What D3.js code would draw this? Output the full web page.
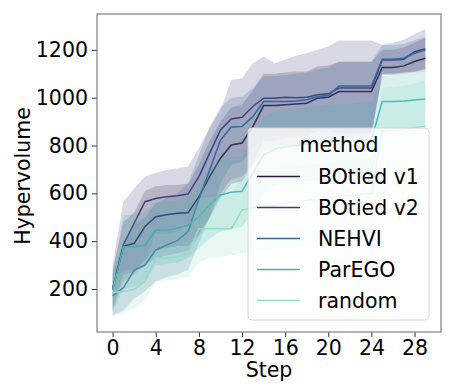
<!DOCTYPE html>
<html>
<head>
<meta charset="utf-8">
<script src="https://cdn.jsdelivr.net/npm/d3@7"></script>
<style>
  body { margin: 0; background: #fff; }
  text { font-family: "DejaVu Sans", sans-serif; fill: #000; }
</style>
</head>
<body>
<div id="hv_chart"></div>
<script>
// steps and tick labels
var steps = d3.range(0, 30);
var xTicks = [0, 4, 8, 12, 16, 20, 24, 28];
var yTicks = [200, 400, 600, 800, 1000, 1200];

var methods = ['BOtied v1', 'BOtied v2', 'NEHVI', 'ParEGO', 'random'];
var colors = ['#2e1e3c', '#413d7b', '#37659e', '#3fb3b1', '#93dcc2'];

// mean hypervolume per step
var v1Mean = [200,378,391,461,502,510,517,519,586,670,747,802,810,879,967,967,970,974,977,998,1002,1026,1026,1026,1026,1126,1126,1133,1151,1165];
var v2Mean = [200,385,475,565,578,586,590,597,670,768,865,911,918,963,998,998,1002,1000,1002,1012,1016,1040,1040,1040,1040,1158,1158,1161,1192,1205];
var nehviMean = [171,205,279,300,363,384,402,440,575,698,823,877,879,921,984,984,984,986,991,1005,1009,1049,1049,1049,1049,1161,1161,1165,1186,1200];
var paregoMean = [196,377,377,384,447,447,454,468,502,551,593,605,609,684,760,785,795,800,805,810,815,818,820,822,825,984,984,986,990,994];
var randomMean = [185,189,199,231,330,330,335,350,452,452,452,452,531,540,545,550,560,565,570,575,580,590,590,595,600,860,865,868,875,880];

// confidence band, upper
var v1Hi = [280,480,520,610,630,635,635,640,720,820,900,960,970,1030,1100,1100,1105,1110,1110,1130,1135,1150,1150,1150,1150,1200,1200,1210,1230,1250];
var v2Hi = [300,565,620,670,685,698,705,712,790,872,950,1074,1081,1144,1172,1144,1160,1175,1186,1200,1215,1239,1239,1239,1239,1221,1230,1242,1265,1287];
var nehviHi = [260,400,470,500,560,580,600,640,760,880,960,1000,1005,1040,1090,1090,1095,1100,1105,1120,1125,1150,1150,1150,1150,1220,1220,1225,1240,1255];
var paregoHi = [260,510,510,520,560,565,570,585,640,700,740,750,755,840,920,940,950,955,960,965,970,975,975,980,985,1090,1095,1100,1105,1110];
var randomHi = [260,270,285,320,430,430,440,460,580,585,590,590,680,690,700,705,710,715,720,725,730,740,740,745,750,1040,1045,1050,1060,1070];

// confidence band, lower
var v1Lo = [120,260,270,320,360,370,380,380,430,500,580,640,650,720,820,820,830,835,840,860,865,850,850,850,850,1095,1095,1100,1105,1110];
var v2Lo = [110,230,260,300,330,340,350,360,420,500,600,660,670,720,780,780,790,795,800,810,815,830,830,830,830,1100,1100,1105,1110,1120];
var nehviLo = [90,110,160,190,230,250,260,280,390,500,640,720,730,790,840,840,845,850,850,860,860,850,850,850,850,1100,1100,1105,1110,1120];
var paregoLo = [100,200,210,230,300,305,310,330,370,410,440,450,460,520,600,630,640,645,650,655,660,665,670,670,675,860,860,865,870,880];
var randomLo = [84,98,120,154,231,235,240,251,309,330,335,340,350,356,360,365,370,375,380,385,390,395,395,400,405,650,655,660,665,670];

var means = [v1Mean, v2Mean, nehviMean, paregoMean, randomMean];
var his = [v1Hi, v2Hi, nehviHi, paregoHi, randomHi];
var los = [v1Lo, v2Lo, nehviLo, paregoLo, randomLo];

var fontSize = "20.5px";

// set the dimensions and margins of the graph
var margin = {top: 14, right: 14, bottom: 55, left: 97},
  width = 455 - margin.left - margin.right,
  height = 387 - margin.top - margin.bottom;

var svg = d3.select("#hv_chart")
.append("svg")
  .attr("width", 455)
  .attr("height", 387)
.append("g")
  .attr("transform", "translate(" + margin.left + "," + margin.top + ")");

var x = d3.scaleLinear()
  .domain([-1.45, 30.45])
  .range([0, width]);

var y = d3.scaleLinear()
  .domain([20, 1350])
  .range([height, 0]);

// bands
var area = d3.area()
  .x(function(d) { return x(d.s); })
  .y0(function(d) { return y(d.lo); })
  .y1(function(d) { return y(d.hi); });

var line = d3.line()
  .x(function(d) { return x(d.s); })
  .y(function(d) { return y(d.m); });

methods.forEach(function(name, i) {
  var rows = steps.map(function(s) {
    return {s: s, m: means[i][s], lo: los[i][s], hi: his[i][s]};
  });
  svg.append("path")
    .datum(rows)
    .attr("d", area)
    .style("fill", colors[i])
    .style("fill-opacity", 0.2);
  svg.append("path")
    .datum(rows)
    .attr("d", line)
    .style("fill", "none")
    .style("stroke", colors[i])
    .style("stroke-width", 1.5);
});

// axes
var xAxis = svg.append("g")
  .attr("transform", "translate(0," + height + ")")
  .call(d3.axisBottom(x).tickValues(xTicks).tickFormat(d3.format("d")).tickSize(5).tickPadding(3));
var yAxis = svg.append("g")
  .call(d3.axisLeft(y).tickValues(yTicks).tickFormat(d3.format("d")).tickSize(5).tickPadding(4));

[xAxis, yAxis].forEach(function(a) {
  a.selectAll("text").style("font-size", fontSize).style("font-family", "DejaVu Sans");
  a.selectAll("line").style("stroke", "#333").style("stroke-width", 1);
  a.select(".domain").remove();
});

// frame
svg.append("rect")
  .attr("x", 0)
  .attr("y", 0)
  .attr("width", width)
  .attr("height", height)
  .style("fill", "none")
  .style("stroke", "#7f7f7f")
  .style("stroke-width", 1.2);

// axis labels
svg.append("text")
  .attr("x", x(14.5))
  .attr("y", height + 45)
  .attr("text-anchor", "middle")
  .style("font-size", fontSize)
  .text("Step");

svg.append("text")
  .attr("transform", "translate(" + (30 - margin.left) + "," + (176 - margin.top) + ") rotate(-90)")
  .attr("text-anchor", "middle")
  .style("font-size", fontSize)
  .text("Hypervolume");

// legend
var legend = svg.append("g")
  .attr("transform", "translate(" + (248 - margin.left) + "," + (128 - margin.top) + ")");

legend.append("rect")
  .attr("width", 181)
  .attr("height", 192)
  .attr("rx", 4)
  .style("fill", "#fff")
  .style("fill-opacity", 0.8)
  .style("stroke", "#d8d8d8")
  .style("stroke-width", 1);

legend.append("text")
  .attr("x", 91)
  .attr("y", 24)
  .attr("text-anchor", "middle")
  .style("font-size", fontSize)
  .text("method");

methods.forEach(function(name, i) {
  var ly = 48.5 + i * 31;
  legend.append("line")
    .attr("x1", 9)
    .attr("x2", 52)
    .attr("y1", ly)
    .attr("y2", ly)
    .style("stroke", colors[i])
    .style("stroke-width", 1.5);
  legend.append("text")
    .attr("x", 70)
    .attr("y", ly + 7)
    .style("font-size", fontSize)
    .text(name);
});
</script>
</body>
</html>
